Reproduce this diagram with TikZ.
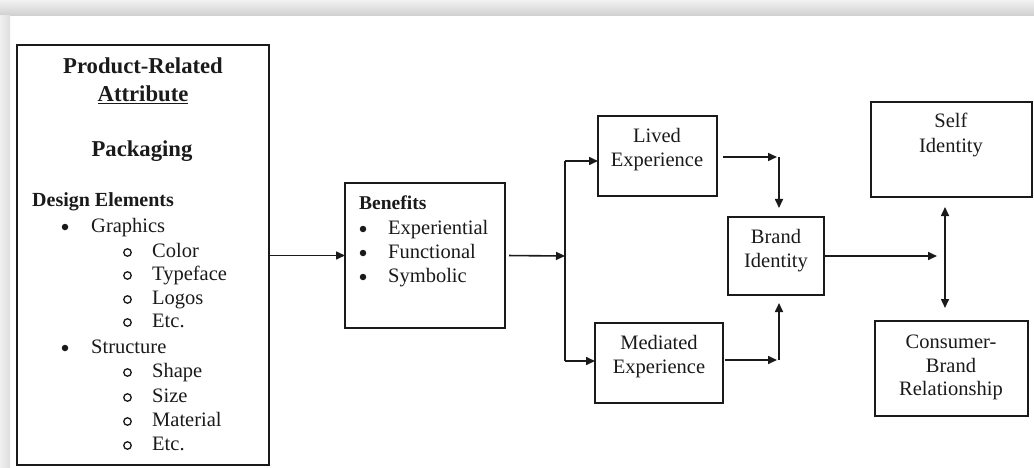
\documentclass[tikz,border=0pt]{standalone}
\usepackage{fontspec}
\setmainfont{Liberation Serif}
\usetikzlibrary{arrows.meta}
\definecolor{ink}{HTML}{1A1A1A}
\newcommand\bodysize{\fontsize{20.5}{24}\selectfont}
\newcommand\headsize{\fontsize{22.7}{26}\selectfont\bfseries}
\begin{document}
\begin{tikzpicture}[x=1pt,y=-1pt,
  box/.style={draw=ink, line width=1.7pt, inner sep=0pt, outer sep=0pt, anchor=north west},
  txt/.style={inner sep=0pt, text=ink, font=\bodysize},
  head/.style={inner sep=0pt, text=ink, font=\headsize, anchor=base},
  dot/.style={circle, fill=ink, inner sep=0pt, minimum size=6.5pt},
  ring/.style={circle, draw=ink, line width=1.3pt, inner sep=0pt, minimum size=7.5pt},
  line/.style={draw=ink, line width=1.6pt},
  arr/.style={line, -{Triangle[length=9pt,width=8pt]}},
  dblarr/.style={line, {Triangle[length=9pt,width=8pt]}-{Triangle[length=9pt,width=8pt]}}]
\useasboundingbox (0,0) rectangle (1034,468);

% soft frame along the top and left edges
\shade[top color=gray!10, bottom color=gray!38] (0,0) rectangle (1034,16);
\shade[left color=gray!12, right color=gray!26] (0,16) rectangle (10,468);

% boxes
\node[box, minimum width=252pt, minimum height=420pt] (prod) at (17,45) {};
\node[box, minimum width=160pt, minimum height=145pt] (ben) at (345,183) {};
\node[box, minimum width=119pt, minimum height=80pt] (lived) at (598,116) {};
\node[box, minimum width=128pt, minimum height=80pt] (med) at (595,323) {};
\node[box, minimum width=96pt, minimum height=78pt] (brand) at (728,217) {};
\node[box, minimum width=161pt, minimum height=95pt] (self) at (871,102) {};
\node[box, minimum width=153pt, minimum height=95pt] (cons) at (875,321) {};

% product-related attribute
\node[head] (t1) at (143,74) {Product-Related};
\node[head] (t2) at (143,102) {\underline{Attribute}};
\node[head] (t3) at (142,157) {Packaging};
\node[txt, anchor=base west, font=\fontsize{20}{24}\selectfont\bfseries] (de) at (32,206) {Design Elements};
\node[dot] (g0) at (65,227) {};
\node[txt, anchor=base west] (g) at (91,232) {Graphics};
\node[ring] (g1o) at (127.5,252.5) {};
\node[txt, anchor=base west] (g1) at (152,257) {Color};
\node[ring] (g2o) at (127.5,275.5) {};
\node[txt, anchor=base west] (g2) at (152,280) {Typeface};
\node[ring] (g3o) at (127.5,299.5) {};
\node[txt, anchor=base west] (g3) at (152,304) {Logos};
\node[ring] (g4o) at (127.5,322.5) {};
\node[txt, anchor=base west] (g4) at (152,327) {Etc.};
\node[dot] (s0) at (65,348) {};
\node[txt, anchor=base west] (s) at (91,353) {Structure};
\node[ring] (s1o) at (127.5,372.5) {};
\node[txt, anchor=base west] (s1) at (152,377) {Shape};
\node[ring] (s2o) at (127.5,397.5) {};
\node[txt, anchor=base west] (s2) at (152,402) {Size};
\node[ring] (s3o) at (127.5,421.5) {};
\node[txt, anchor=base west] (s3) at (152,426) {Material};
\node[ring] (s4o) at (127.5,445.5) {};
\node[txt, anchor=base west] (s4) at (152,450) {Etc.};

% benefits
\node[txt, anchor=base west, font=\fontsize{19.5}{24}\selectfont\bfseries] (bh) at (359,209) {Benefits};
\node[dot] (b1o) at (363,229) {};
\node[txt, anchor=base west] (b1) at (388,234) {Experiential};
\node[dot] (b2o) at (363,253) {};
\node[txt, anchor=base west] (b2) at (388,258) {Functional};
\node[dot] (b3o) at (363,277) {};
\node[txt, anchor=base west] (b3) at (388,282) {Symbolic};

% experience, identity and relationship labels
\node[txt, anchor=base] (lv1) at (657,143) {Lived};
\node[txt, anchor=base] (lv2) at (657,167) {Experience};
\node[txt, anchor=base] (md1) at (659,349) {Mediated};
\node[txt, anchor=base] (md2) at (659,373) {Experience};
\node[txt, anchor=base] (br1) at (776,243) {Brand};
\node[txt, anchor=base] (br2) at (776,267) {Identity};
\node[txt, anchor=base] (sf1) at (951,128) {Self};
\node[txt, anchor=base] (sf2) at (951,153) {Identity};
\node[txt, anchor=base] (cb1) at (951,348) {Consumer-};
\node[txt, anchor=base] (cb2) at (951,372) {Brand};
\node[txt, anchor=base] (cb3) at (951,395) {Relationship};

% junction points
\coordinate (split) at (565,256);
\coordinate (splitTop) at (565,161);
\coordinate (splitBot) at (565,361);
\coordinate (lvTurn) at (779,157);
\coordinate (mdTurn) at (779,360);
\coordinate (hub) at (945,256);

% connectors
\draw[arr] (prod.east |- ben.west) -- (ben.west);
\draw[arr, shorten <=4pt] (ben.east) -- (split);
\draw[line] (splitTop) -- (splitBot);
\draw[arr] (splitTop) -- (splitTop -| lived.west);
\draw[arr] (splitBot) -- (splitBot -| med.west);
\draw[arr, shorten <=6pt, shorten >=2pt] (lvTurn -| lived.east) -- (lvTurn);
\draw[arr, shorten >=9pt] (lvTurn) -- (lvTurn |- brand.north);
\draw[arr, shorten <=2pt, shorten >=2pt] (mdTurn -| med.east) -- (mdTurn);
\draw[arr, shorten >=8pt] (mdTurn) -- (mdTurn |- brand.south);
\draw[arr, shorten <=1pt, shorten >=8pt] (brand.east |- hub) -- (hub);
\draw[dblarr, shorten <=10pt, shorten >=13pt] (hub |- self.south) -- (hub |- cons.north);
\end{tikzpicture}
\end{document}
